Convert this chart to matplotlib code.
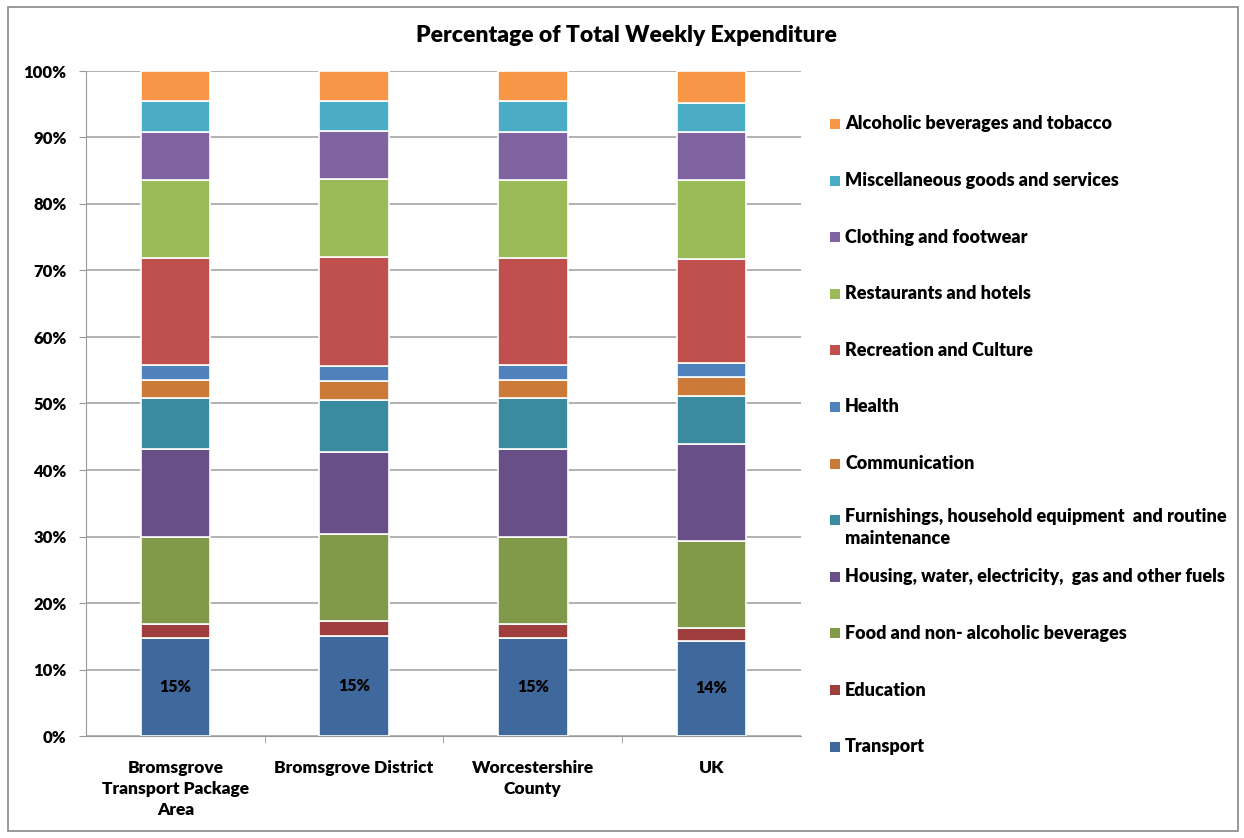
import matplotlib.pyplot as plt
from matplotlib.patches import Rectangle

plt.rcParams['font.family'] = ['Lato', 'DejaVu Sans']
plt.rcParams['font.weight'] = 'heavy'

areas = ['Bromsgrove\nTransport Package\nArea', 'Bromsgrove District',
         'Worcestershire\nCounty', 'UK']

# share of weekly spend (%), bottom of the stack first
categories = ['Transport', 'Education', 'Food and non- alcoholic beverages',
              'Housing, water, electricity,  gas and other fuels',
              'Furnishings, household equipment  and routine\nmaintenance',
              'Communication', 'Health', 'Recreation and Culture',
              'Restaurants and hotels', 'Clothing and footwear',
              'Miscellaneous goods and services',
              'Alcoholic beverages and tobacco']

transport = [14.8, 15.1, 14.8, 14.29]
education = [2.05, 2.2, 2.05, 1.95]
food = [13.13, 13.14, 13.13, 13.03]
housing = [13.19, 12.33, 13.19, 14.64]
furnishings = [7.62, 7.82, 7.62, 7.22]
communication = [2.8, 2.8, 2.8, 2.9]
health = [2.16, 2.21, 2.16, 2.06]
recreation = [16.19, 16.39, 16.19, 15.59]
restaurants = [11.73, 11.73, 11.73, 11.92]
clothing = [7.22, 7.22, 7.22, 7.18]
misc = [4.56, 4.56, 4.56, 4.46]
alcohol = [4.56, 4.5, 4.56, 4.76]

series = [transport, education, food, housing, furnishings, communication,
          health, recreation, restaurants, clothing, misc, alcohol]
colors = ['#3F689C', '#9E3F3E', '#809A4A', '#684F87', '#3A8BA0', '#CB7A38',
          '#4F81BD', '#C0504D', '#9BBB59', '#8064A2', '#4BACC6', '#F79646']

W, H = 1244, 838
fig = plt.figure(figsize=(W / 100, H / 100), dpi=100)
ax = fig.add_axes([86 / W, 1 - 736 / H, 715 / W, 665 / H])

x = list(range(len(areas)))
bottom = [0.0] * len(areas)
for vals, col in zip(series, colors):
    ax.bar(x, vals, width=0.39, bottom=bottom, color=col,
           edgecolor='white', linewidth=1.2, zorder=3)
    bottom = [b + v for b, v in zip(bottom, vals)]

# transport share printed inside the bottom segment
for xi, v in zip(x, transport):
    ax.text(xi, v / 2, f'{round(v):.0f}%', ha='center', va='center',
            fontsize=11.5, color='black', zorder=4)

ax.set_xlim(-0.5, len(areas) - 0.5)
ax.set_ylim(0, 100)
ax.set_yticks(range(0, 101, 10))
ax.set_yticklabels([f'{v}%' for v in range(0, 101, 10)])
ax.set_xticks(x)
ax.set_xticklabels(areas, fontsize=12.5, linespacing=1.4)
ax.set_xticks([0.5, 1.5, 2.5], minor=True)
ax.tick_params(axis='x', which='major', length=0, pad=17)
ax.tick_params(axis='x', which='minor', length=5, color='#999999')
ax.tick_params(axis='y', length=5, color='#999999', labelsize=12, pad=9)
ax.grid(axis='y', color='#a6a6a6', linewidth=1.2, zorder=0)
for side in ['top', 'right']:
    ax.spines[side].set_visible(False)
for side in ['left', 'bottom']:
    ax.spines[side].set_color('#999999')

fig.text(626 / W, 1 - 36 / H, 'Percentage of Total Weekly Expenditure',
         ha='center', va='center', fontsize=16.5)

# legend, top entry first
for i, (lab, col) in enumerate(zip(categories[::-1], colors[::-1])):
    yc = 124 + i * 56.6
    fig.patches.append(Rectangle((830 / W, 1 - (yc + 5) / H), 10 / W, 10 / H,
                                 transform=fig.transFigure,
                                 facecolor=col, edgecolor='none'))
    if '\n' in lab:
        fig.text(845 / W, 1 - (yc - 12) / H, lab, ha='left', va='top',
                 fontsize=13, linespacing=1.35)
    else:
        fig.text(845 / W, 1 - yc / H, lab, ha='left', va='center',
                 fontsize=13)

# outer frame
fig.patches.append(Rectangle((8 / W, 1 - 831 / H), 1230 / W, 824 / H,
                             transform=fig.transFigure, fill=False,
                             edgecolor='#888888', linewidth=1.2))

fig.savefig('out.png', dpi=100)
